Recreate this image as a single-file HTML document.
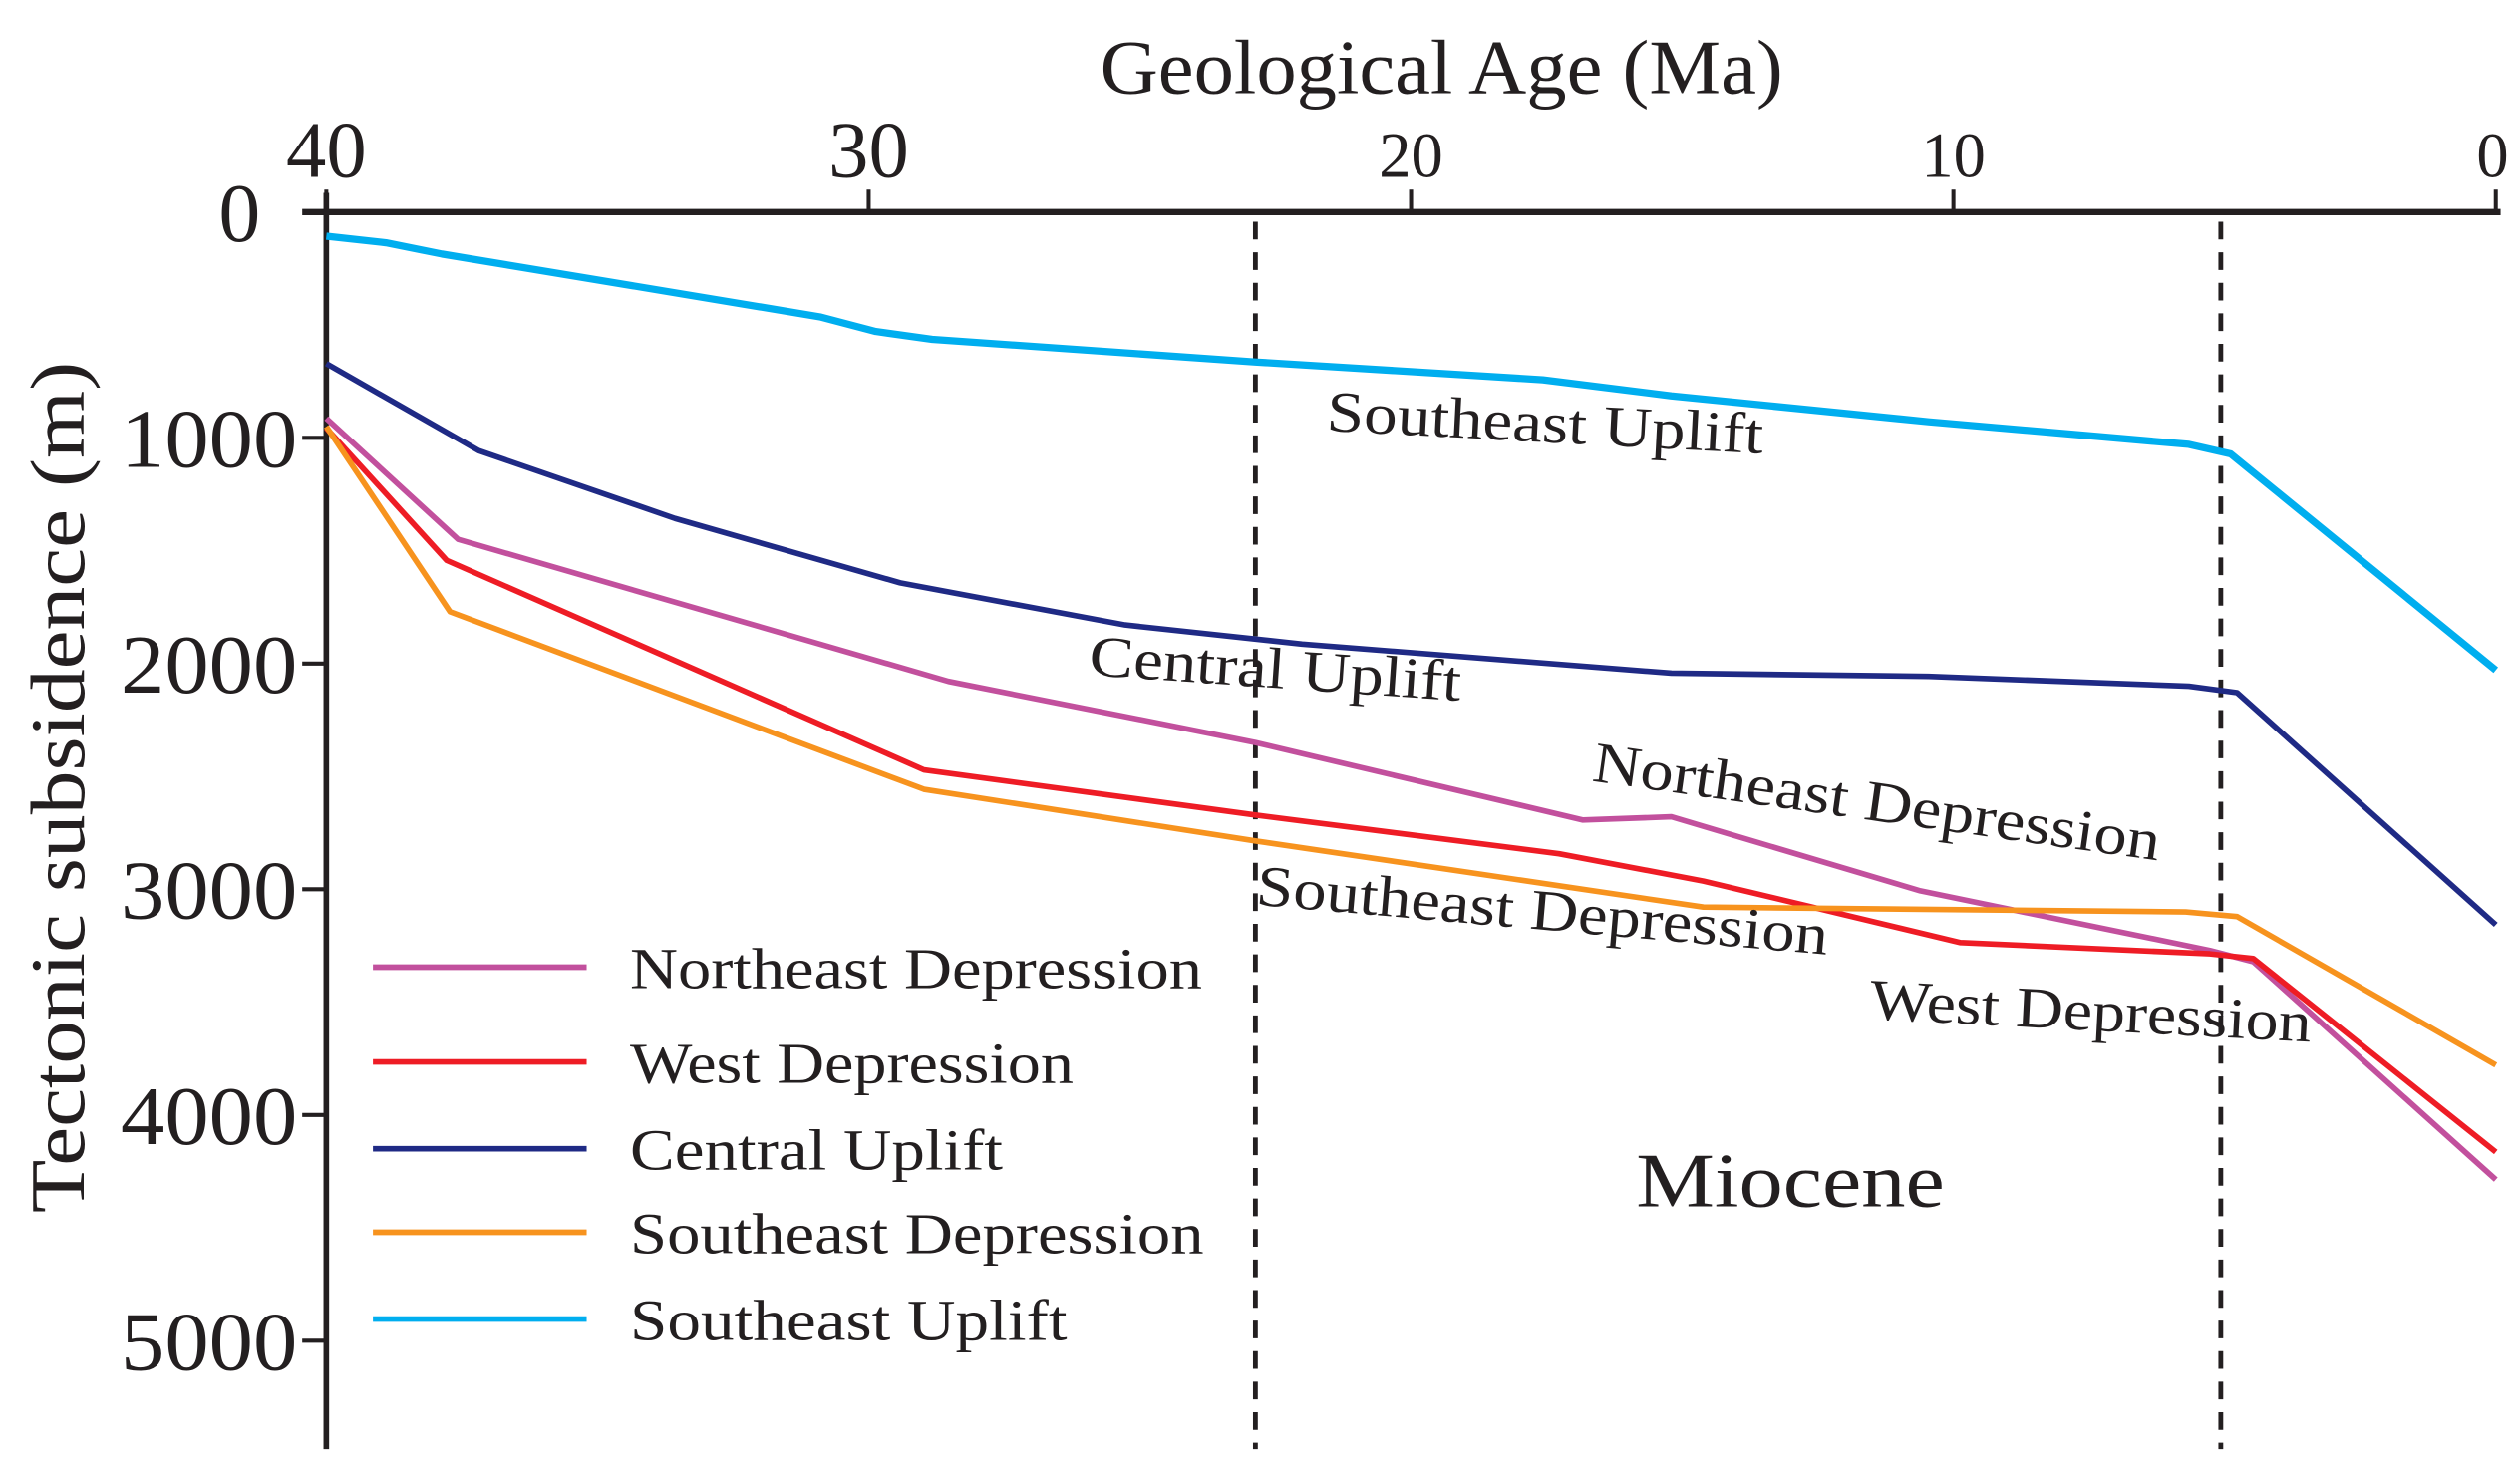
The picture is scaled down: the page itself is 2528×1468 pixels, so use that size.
<!DOCTYPE html>
<html><head><meta charset="utf-8"><style>
html,body{margin:0;padding:0;background:#fff;}
svg{display:block;}
text{font-family:"Liberation Serif",serif;fill:#231f20;}
</style></head><body>
<svg id="chart" width="2528" height="1468" viewBox="0 0 1568 910.6" xmlns="http://www.w3.org/2000/svg">
<rect width="1568" height="910.6" fill="#fff"/>
<g id="axes"></g>
<g id="marks"></g>
<text x="897" y="58" font-size="48" text-anchor="middle" textLength="425" lengthAdjust="spacingAndGlyphs">Geological Age (Ma)</text>
<text transform="translate(52,490) rotate(-90)" font-size="48" text-anchor="middle" textLength="530" lengthAdjust="spacingAndGlyphs">Tectonic subsidence (m)</text>
<text transform="translate(825,268) rotate(3)" font-size="36" textLength="272" lengthAdjust="spacingAndGlyphs">Southeast Uplift</text>
<text transform="translate(677,420) rotate(4)" font-size="36" textLength="232" lengthAdjust="spacingAndGlyphs">Central Uplift</text>
<text transform="translate(990,486) rotate(8)" font-size="36" textLength="356" lengthAdjust="spacingAndGlyphs">Northeast Depression</text>
<text transform="translate(781,563) rotate(5)" font-size="36" textLength="357" lengthAdjust="spacingAndGlyphs">Southeast Depression</text>
<text transform="translate(1163,634) rotate(3)" font-size="36" textLength="275" lengthAdjust="spacingAndGlyphs">West Depression</text>
<text x="1018" y="751" font-size="48" textLength="192" lengthAdjust="spacingAndGlyphs">Miocene</text>
<g id="legend"></g>
</svg>
<script>
const xTicks = [40, 30, 20, 10, 0];
const yTicks = [0, 1000, 2000, 3000, 4000, 5000];
const boundaryAges = [22.87, 5.07];
const seriesNames = ["Northeast Depression","West Depression","Central Uplift","Southeast Depression","Southeast Uplift"];
const seriesColors = ["#c2509d","#ee1c25","#1f2a85","#f7931e","#00aeef"];
const seUpliftAges = [40,38.9,37.87,30.9,29.87,28.83,22.87,17.57,15.2,10.46,5.66,4.89,0];
const seUpliftDepths = [107,136,186,464,529,564,664,743,814,929,1029,1071,2029];
const centralAges = [40,37.19,33.57,29.42,25.27,22.01,15.2,10.46,5.66,4.77,0];
const centralDepths = [671,1057,1357,1643,1829,1914,2043,2057,2100,2129,3157];
const neAges = [40,37.57,28.53,22.87,16.83,15.2,10.61,5.27,4.47,0];
const neDepths = [914,1450,2079,2350,2693,2679,3007,3271,3321,4286];
const westAges = [40,37.78,28.98,22.87,17.27,14.61,9.87,5.27,4.47,0];
const westDepths = [957,1543,2471,2671,2843,2964,3236,3286,3307,4164];
const seDepAges = [40,37.72,28.98,22.87,14.61,5.72,4.77,0];
const seDepDepths = [950,1771,2557,2786,3079,3100,3121,3779];

const X = a => 203 + (40 - a) * 33.75;
const Y = d => 132 + d * 0.1405;
const NS = "http://www.w3.org/2000/svg";
function mk(tag, attrs, parent){const e=document.createElementNS(NS,tag);for(const k in attrs)e.setAttribute(k,attrs[k]);parent.appendChild(e);return e;}
const axes=document.getElementById('axes'), marks=document.getElementById('marks'), legend=document.getElementById('legend');

let e;
e=mk('line',{x1:188,y1:Y(0),x2:1556,y2:Y(0),stroke:'#231f20','stroke-width':4},axes);


e=mk('line',{x1:X(40),y1:120,x2:X(40),y2:902,stroke:'#231f20','stroke-width':3.5},axes);


xTicks.forEach(t=>{
  e=mk('line',{x1:X(t),y1:Y(0),x2:X(t),y2:118,stroke:'#231f20','stroke-width':2.5},axes);
  
  
  const big = (t===40||t===30);
  e=mk('text',{x:X(t)+(t===0?-2:0),y:110,'font-size':big?50:40,'text-anchor':'middle'},axes);
  e.textContent=t;
  
  
});
yTicks.forEach(t=>{
  if(t>0){
    e=mk('line',{x1:188,y1:Y(t),x2:X(40),y2:Y(t),stroke:'#231f20','stroke-width':2.5},axes);
    
    
  }
  e=mk('text',{x:t===0?162:185,y:Y(t)+18,'font-size':52,'text-anchor':'end'},axes);
  if(t>0){e.setAttribute('textLength',110);e.setAttribute('lengthAdjust','spacingAndGlyphs');}
  e.textContent=t;
  
  
});
boundaryAges.forEach(a=>{
  e=mk('line',{x1:X(a),y1:138,x2:X(a),y2:902,stroke:'#231f20','stroke-width':3,'stroke-dasharray':'11 8'},axes);
  
  
});
const series=[[neAges,neDepths],[westAges,westDepths],[centralAges,centralDepths],[seDepAges,seDepDepths],[seUpliftAges,seUpliftDepths]];
const seriesKeys=['northeast-depression','west-depression','central-uplift','southeast-depression','southeast-uplift'];
series.forEach((s,i)=>{
  const pts=s[0].map((a,j)=>X(a).toFixed(1)+','+Y(s[1][j]).toFixed(1)).join(' ');
  e=mk('polyline',{points:pts,fill:'none',stroke:seriesColors[i],'stroke-width':i===4?4.5:3.5,'stroke-linejoin':'round'},marks);
  
  
});
const legY=[602,661,715,767,821];
seriesNames.forEach((n,i)=>{
  e=mk('line',{x1:232,y1:legY[i],x2:365,y2:legY[i],stroke:seriesColors[i],'stroke-width':3.5},legend);
  
  
  const w=[356,276,232,357,272][i];
  e=mk('text',{x:392,y:legY[i]+13,'font-size':36,textLength:w,lengthAdjust:'spacingAndGlyphs'},legend);
  e.textContent=n;
  
  
});
</script>
</body></html>
